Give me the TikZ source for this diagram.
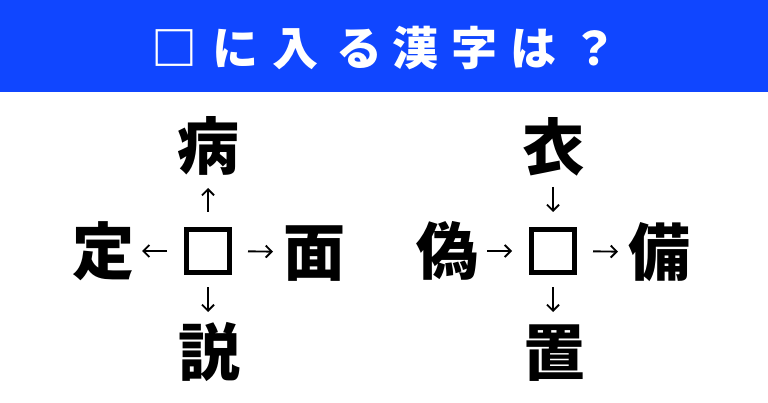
\documentclass[tikz,border=0pt]{standalone}
\usepackage{fontspec}
\newfontfamily\jp{Noto Sans CJK JP}
\usetikzlibrary{arrows.meta}
\definecolor{headblue}{HTML}{1046FF}
\begin{document}
\begin{tikzpicture}[x=1pt,y=1pt,
  kanji/.style={font=\jp\bfseries\fontsize{62}{62}\selectfont, inner sep=0pt, outer sep=0pt, text height=54.5pt, text depth=7.5pt},
  titlechar/.style={font=\jp\bfseries\fontsize{46}{46}\selectfont, text=white, inner sep=0pt, text height=40.5pt, text depth=5.5pt},
  blank/.style={draw, line width=5pt, minimum size=43pt, inner sep=0pt},
  link/.style={-{Straight Barb[length=6pt,width=12pt]}, line width=1.9pt},
]
\useasboundingbox (0,0) rectangle (768,402);
\fill[headblue] (0,310) rectangle (768,402);
\foreach \c/\x [count=\i] in {□/174, に/235, 入/295, る/359, 漢/415, 字/474, は/533, ？/594}
  \node[titlechar] (t\i) at (\x,354) {\c};

% left puzzle
\node[blank] (b1) at (208,151) {};
\node[kanji] (l1t) at (208,256) {病};
\node[kanji] (l1l) at (103,151) {定};
\node[kanji] (l1r) at (314,150) {面};
\node[kanji] (l1b) at (209,50) {説};
\draw[link, shorten <=15pt, shorten >=11pt] (b1) -- (b1 |- l1t.south);
\draw[link, shorten <=17pt, shorten >=8pt] (b1) -- (l1l);
\draw[link, shorten <=16pt, shorten >=10pt] (b1) -- (l1r);
\draw[link, shorten <=12pt, shorten >=9pt] (b1) -- (b1 |- l1b.north);

% right puzzle
\node[blank] (b2) at (553,151) {};
\node[kanji] (r1t) at (553,255) {衣};
\node[kanji] (r1l) at (447,151) {偽};
\node[kanji] (r1r) at (659,150) {備};
\node[kanji] (r1b) at (554,50) {置};
\draw[link, shorten <=9pt, shorten >=15pt] (r1t) -- (b2);
\draw[link, shorten <=9pt, shorten >=17pt] (r1l) -- (b2);
\draw[link, shorten <=16pt, shorten >=10pt] (b2) -- (r1r);
\draw[link, shorten <=12pt, shorten >=9pt] (b2) -- (b2 |- r1b.north);
\end{tikzpicture}
\end{document}
